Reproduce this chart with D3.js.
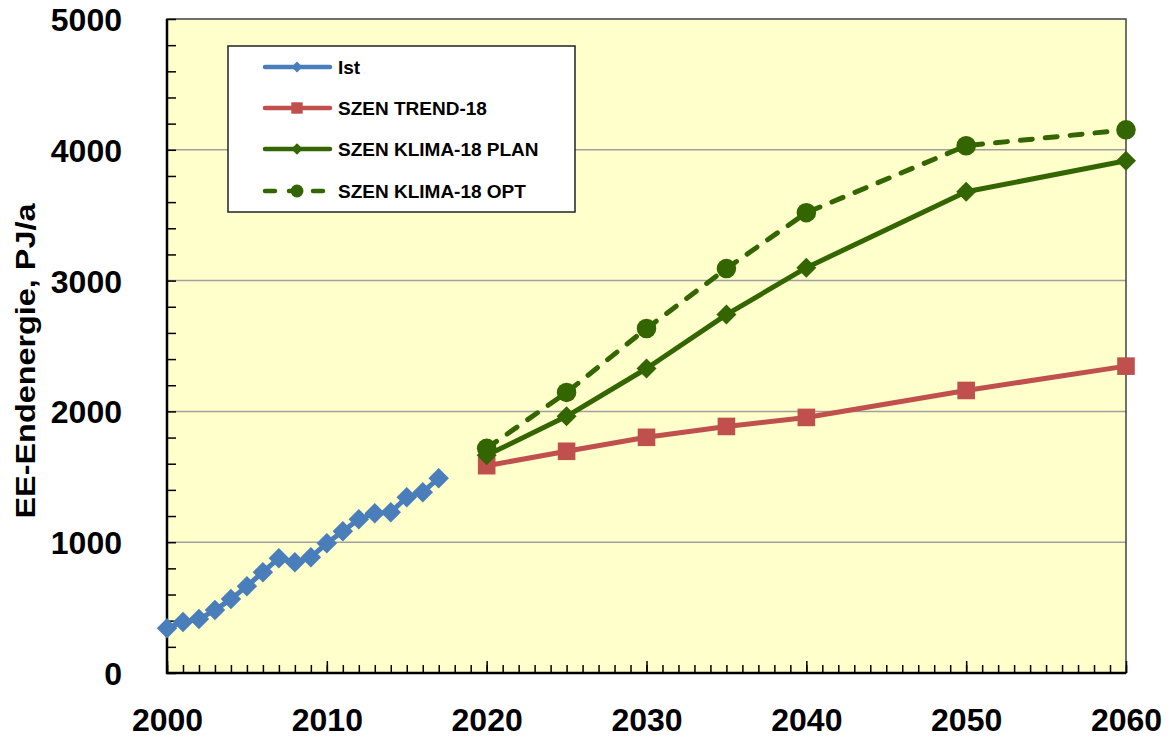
<!DOCTYPE html>
<html>
<head>
<meta charset="utf-8">
<script src="https://cdn.jsdelivr.net/npm/d3@7"></script>
<style>
  html, body { margin: 0; padding: 0; background: #ffffff; }
  svg { display: block; }
  text { font-family: "Liberation Sans", Arial, sans-serif; font-weight: bold; fill: #000; }
</style>
</head>
<body>
<svg id="chart" width="1174" height="738"></svg>
<script>
// ---- data ----
const istYears = [2000,2001,2002,2003,2004,2005,2006,2007,2008,2009,2010,2011,2012,2013,2014,2015,2016,2017];
const istValues = [343,389,412,481,565,664,771,878,847,885,992,1084,1176,1221,1229,1344,1382,1489];
const scenYears = [2020,2025,2030,2035,2040,2050,2060];
const trendValues = [1585,1695,1802,1885,1954,2160,2346];
const planValues = [1664,1962,2328,2740,3099,3679,3916];
const optValues = [1718,2145,2634,3092,3519,4031,4153];
const xTicks = [2000,2010,2020,2030,2040,2050,2060];
const yTicks = [0,1000,2000,3000,4000,5000];
const yLabel = "EE-Endenergie, PJ/a";
const seriesNames = ["Ist","SZEN TREND-18","SZEN KLIMA-18 PLAN","SZEN KLIMA-18 OPT"];

// ---- layout ----
const svg = d3.select("#chart");
const L = 167, R = 1126, T = 19, B = 673;
const x = d3.scaleLinear().domain([2000, 2060]).range([L, R]);
const y = d3.scaleLinear().domain([0, 5000]).range([B, T]);

const blue = "#4a7ebb", red = "#c0504d", green = "#336600";

// background
svg.append("rect").attr("x", L).attr("y", T).attr("width", R - L).attr("height", B - T)
  .attr("fill", "#ffffcc");

// gridlines
svg.append("g").selectAll("line").data(yTicks.filter(v => v > 0 && v < 5000)).join("line")
  .attr("x1", L).attr("x2", R).attr("y1", d => y(d)).attr("y2", d => y(d))
  .attr("stroke", "#a0a0a0").attr("stroke-width", 1.5);

// border top/right
svg.append("rect").attr("x", L).attr("y", T).attr("width", R - L).attr("height", B - T)
  .attr("fill", "none").attr("stroke", "#404040").attr("stroke-width", 1.5);

// minor ticks
const minorX = d3.range(2000, 2061, 1);
svg.append("g").attr("transform", `translate(0,${B})`)
  .call(d3.axisBottom(x).tickValues(minorX).tickSize(-8).tickFormat(""))
  .call(g => g.select(".domain").remove())
  .call(g => g.selectAll("line").attr("stroke", "#000").attr("stroke-width", 1.5));
const minorY = d3.range(0, 5001, 200);
svg.append("g").attr("transform", `translate(${L},0)`)
  .call(d3.axisLeft(y).tickValues(minorY).tickSize(-9).tickFormat(""))
  .call(g => g.select(".domain").remove())
  .call(g => g.selectAll("line").attr("stroke", "#000").attr("stroke-width", 1.5));

// major x axis
const xAxis = svg.append("g").attr("transform", `translate(0,${B})`)
  .call(d3.axisBottom(x).tickValues(xTicks).tickSize(-12).tickPadding(35).tickFormat(d3.format("d")));
xAxis.select(".domain").remove();
xAxis.selectAll("line").attr("stroke", "#000").attr("stroke-width", 1.5);
xAxis.selectAll("text").attr("font-size", 32).attr("font-family", "Liberation Sans, Arial, sans-serif")
  .attr("font-weight", "bold").attr("fill", "#000");

// major y axis labels
const yAxis = svg.append("g").attr("transform", `translate(${L},0)`)
  .call(d3.axisLeft(y).tickValues(yTicks).tickSize(0).tickPadding(45).tickFormat(d3.format("d")));
yAxis.select(".domain").remove();
yAxis.selectAll("text").attr("font-size", 32).attr("font-family", "Liberation Sans, Arial, sans-serif")
  .attr("font-weight", "bold").attr("fill", "#000").attr("dy", "0.36em");

// axis lines (left & bottom)
svg.append("line").attr("x1", L).attr("x2", L).attr("y1", T).attr("y2", B + 1)
  .attr("stroke", "#000").attr("stroke-width", 2.5);
svg.append("line").attr("x1", L - 1).attr("x2", R).attr("y1", B).attr("y2", B)
  .attr("stroke", "#000").attr("stroke-width", 2.5);

// y label
svg.append("text")
  .attr("transform", `translate(35,${(T + B) / 2 + 15}) rotate(-90)`)
  .attr("text-anchor", "middle").attr("font-size", 28)
  .attr("textLength", 315).attr("lengthAdjust", "spacingAndGlyphs")
  .text(yLabel);

// ---- series ----
const line = d3.line().x(d => x(d[0])).y(d => y(d[1]));
const ist = istYears.map((yr, i) => [yr, istValues[i]]);
const trend = scenYears.map((yr, i) => [yr, trendValues[i]]);
const plan = scenYears.map((yr, i) => [yr, planValues[i]]);
const opt = scenYears.map((yr, i) => [yr, optValues[i]]);

function drawSeries(data, color, width, dash, symType, symSize, rotate) {
  const g = svg.append("g");
  g.append("path").datum(data).attr("d", line).attr("fill", "none")
    .attr("stroke", color).attr("stroke-width", width)
    .attr("stroke-linejoin", "round")
    .attr("stroke-linecap", dash ? "round" : "butt")
    .attr("stroke-dasharray", dash || null);
  g.selectAll("path.m").data(data).join("path").attr("class", "m")
    .attr("d", d3.symbol().type(symType).size(symSize))
    .attr("transform", d => `translate(${x(d[0])},${y(d[1])})` + (rotate ? " rotate(45)" : ""))
    .attr("fill", color);
}

drawSeries(trend, red, 5, null, d3.symbolSquare, 310, false);
drawSeries(opt, green, 5, "12,13", d3.symbolCircle, 300, false);
drawSeries(plan, green, 5, null, d3.symbolSquare, 200, true);
drawSeries(ist, blue, 5, null, d3.symbolSquare, 210, true);

// ---- legend ----
const lg = svg.append("g");
lg.append("rect").attr("x", 228).attr("y", 46).attr("width", 347).attr("height", 166)
  .attr("fill", "#ffffff").attr("stroke", "#222").attr("stroke-width", 1.5);
const legendItems = [
  { name: seriesNames[0], color: blue, dash: null, sym: d3.symbolSquare, size: 60, rot: true },
  { name: seriesNames[1], color: red, dash: null, sym: d3.symbolSquare, size: 130, rot: false },
  { name: seriesNames[2], color: green, dash: null, sym: d3.symbolSquare, size: 65, rot: true },
  { name: seriesNames[3], color: green, dash: "10,14", sym: d3.symbolCircle, size: 130, rot: false }
];
const rowY = [67, 108, 149, 191];
legendItems.forEach((it, i) => {
  const yy = rowY[i];
  lg.append("line").attr("x1", 265).attr("x2", 330).attr("y1", yy).attr("y2", yy)
    .attr("stroke", it.color).attr("stroke-width", 4.5)
    .attr("stroke-linecap", "round")
    .attr("stroke-dasharray", it.dash);
  lg.append("path").attr("d", d3.symbol().type(it.sym).size(it.size))
    .attr("transform", `translate(297,${yy})` + (it.rot ? " rotate(45)" : ""))
    .attr("fill", it.color);
  lg.append("text").attr("x", 338).attr("y", yy + 7).attr("font-size", 19).text(it.name);
});
</script>
</body>
</html>
